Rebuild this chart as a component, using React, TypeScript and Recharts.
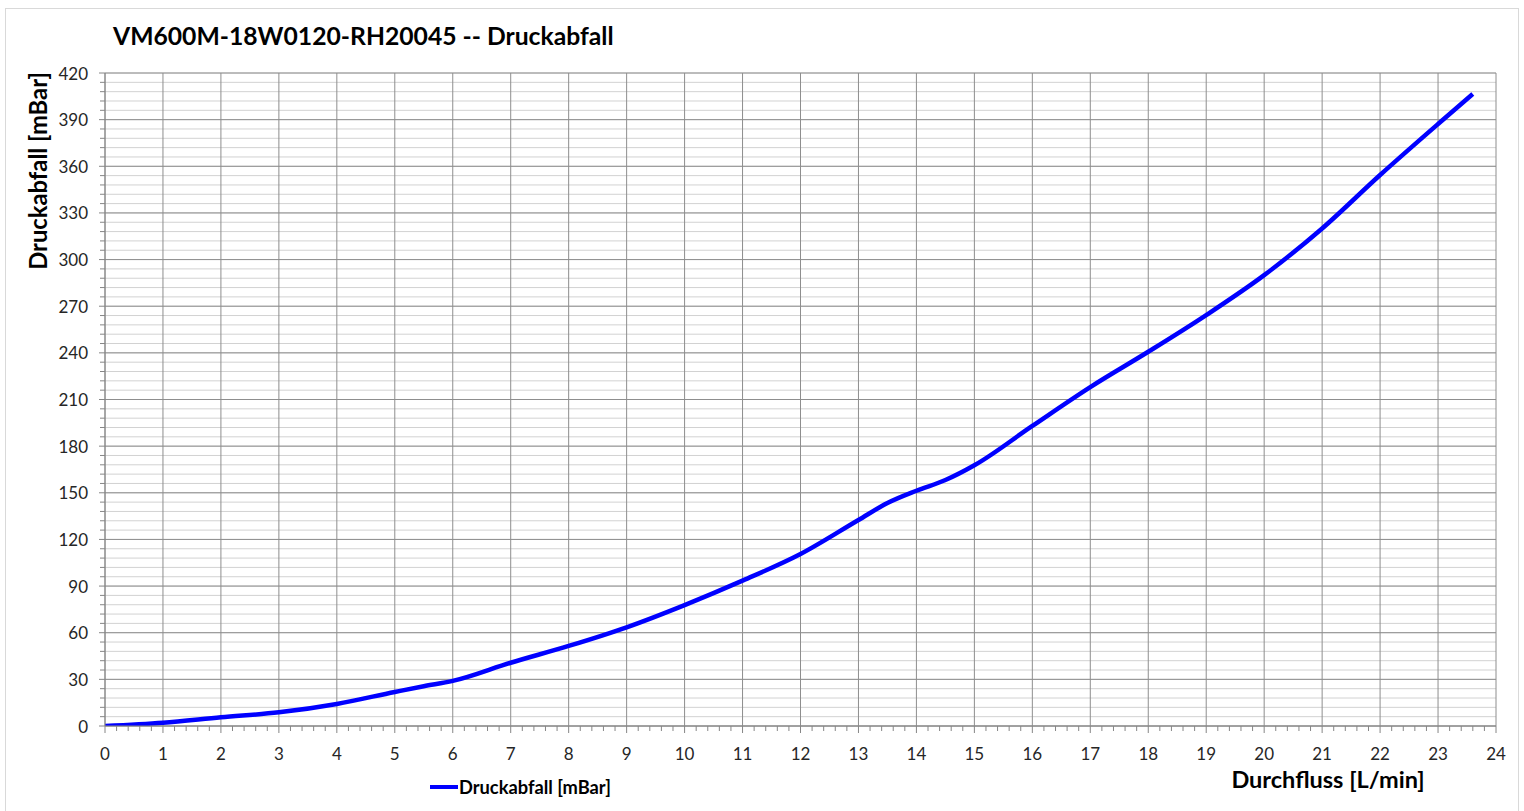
import { LineChart, Line, XAxis, YAxis, CartesianGrid } from 'recharts'

// Druckabfall über Durchfluss
const flow = [0, 1, 2, 3, 4, 5, 5.5, 6, 7, 8, 9, 10, 11, 12, 13, 13.5, 14, 14.5, 15, 16, 17, 18, 19, 20, 21, 22, 23, 23.6]
const pressure = [0, 2.1, 5.6, 8.8, 14.2, 21.9, 25.6, 29, 40.7, 51.5, 63.5, 77.8, 93.5, 110.6, 132.5, 143.4, 151.3, 158.2, 167.7, 193, 218, 240.7, 264.3, 290, 320, 354.4, 387.2, 406.5]

const xTicks = [0, 1, 2, 3, 4, 5, 6, 7, 8, 9, 10, 11, 12, 13, 14, 15, 16, 17, 18, 19, 20, 21, 22, 23, 24]
const yTicks = [0, 30, 60, 90, 120, 150, 180, 210, 240, 270, 300, 330, 360, 390, 420]
const xMinorTicks = Array.from({ length: 121 }, (_, i) => i / 5)
const yMinorTicks = Array.from({ length: 71 }, (_, i) => i * 6)

const title = 'VM600M-18W0120-RH20045 -- Druckabfall'
const xTitle = 'Durchfluss [L/min]'
const yTitle = 'Druckabfall [mBar]'
const seriesName = 'Druckabfall [mBar]'

const data = flow.map((x, i) => ({ x, y: pressure[i] }))

const FONT = 'Lato, "Open Sans", sans-serif'
const AXIS = '#868686'

const isMajor = (v: number, step: number) => Math.abs(v / step - Math.round(v / step)) < 1e-6

function XTick({ x, y, payload }: any) {
  const major = isMajor(payload.value, 1)
  return (
    <g>
      <line x1={x} x2={x} y1={y} y2={y + (major ? 7 : 5)} stroke={AXIS} />
      {major && (
        <text x={x} y={y + 27} textAnchor="middle" dominantBaseline="central" fontSize={17} fill="#262626" fontFamily={FONT}>
          {Math.round(payload.value)}
        </text>
      )}
    </g>
  )
}

function YTick({ x, y, payload }: any) {
  const major = isMajor(payload.value, 30)
  return (
    <g>
      <line x1={x - (major ? 6 : 5)} x2={x} y1={y} y2={y} stroke={AXIS} />
      {major && (
        <text x={x - 17} y={y} textAnchor="end" dominantBaseline="central" fontSize={17} fill="#262626" fontFamily={FONT}>
          {Math.round(payload.value)}
        </text>
      )}
    </g>
  )
}

export default function App() {
  return (
    <div style={{ position: 'absolute', left: 0, top: 0, width: 1524, height: 811, background: '#fff', fontFamily: FONT }}>
      <div style={{ position: 'absolute', left: 5, top: 8, width: 1512, height: 820, border: '1px solid #d9d9d9' }} />
      <div style={{ position: 'absolute', left: 113, top: 19, fontSize: 24.7, fontWeight: 700, color: '#000', lineHeight: '34px', whiteSpace: 'nowrap' }}>
        {title}
      </div>
      <LineChart width={1524} height={811} data={data} margin={{ top: 73, right: 28, left: 45, bottom: 55 }}>
        <CartesianGrid horizontalValues={yMinorTicks} vertical={false} stroke="#d2d2d2" />
        <CartesianGrid horizontalValues={yTicks} verticalValues={xTicks} stroke="#8e8e8e" />
        <XAxis
          type="number"
          dataKey="x"
          domain={[0, 24]}
          ticks={xMinorTicks}
          interval={0}
          height={30}
          tickLine={false}
          tickSize={0}
          tickMargin={0}
          tick={(p: any) => <XTick {...p} />}
          axisLine={{ stroke: AXIS }}
          allowDataOverflow
        />
        <YAxis
          type="number"
          domain={[0, 420]}
          ticks={yMinorTicks}
          interval={0}
          width={60}
          tickLine={false}
          tickSize={0}
          tickMargin={0}
          tick={(p: any) => <YTick {...p} />}
          axisLine={{ stroke: AXIS }}
          allowDataOverflow
        />
        <Line type="monotone" dataKey="y" stroke="#0000ff" strokeWidth={4.5} dot={false} isAnimationActive={false} />
      </LineChart>
      <div
        style={{
          position: 'absolute',
          left: 38,
          top: 171,
          transform: 'translate(-50%, -50%) rotate(-90deg)',
          fontSize: 23.8,
          fontWeight: 700,
          whiteSpace: 'nowrap',
          lineHeight: '26px',
        }}
      >
        {yTitle}
      </div>
      <div style={{ position: 'absolute', left: 1328, top: 779, transform: 'translate(-50%, -50%)', fontSize: 23.5, fontWeight: 700, whiteSpace: 'nowrap', lineHeight: '28px' }}>
        {xTitle}
      </div>
      <div style={{ position: 'absolute', left: 430, top: 787, transform: 'translateY(-50%)', display: 'flex', alignItems: 'center', whiteSpace: 'nowrap' }}>
        <div style={{ width: 28, height: 4, background: '#0000ff' }} />
        <span style={{ fontSize: 18.3, fontWeight: 700, lineHeight: '22px', marginLeft: 1 }}>{seriesName}</span>
      </div>
    </div>
  )
}
